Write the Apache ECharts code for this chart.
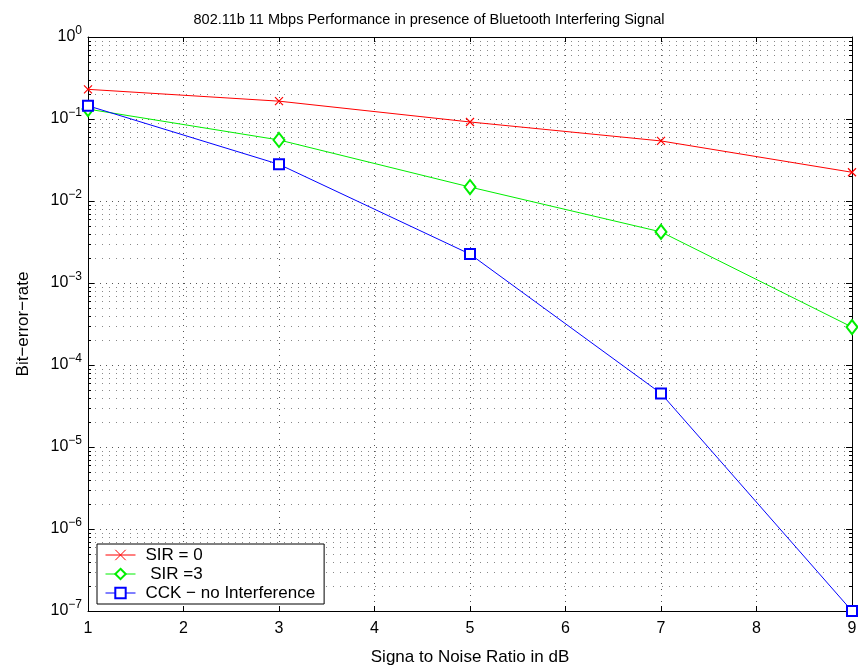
<!DOCTYPE html>
<html>
<head>
<meta charset="utf-8">
<script src="https://cdn.jsdelivr.net/npm/echarts@6/dist/echarts.min.js"></script>
<style>
  html, body { margin: 0; padding: 0; background: #fff; }
  #chart { width: 858px; height: 668px; }
</style>
</head>
<body>
<div id="chart"></div>
<script>
// data
const snr = [1, 3, 5, 7, 9];
const sir0 = [0.23, 0.165, 0.092, 0.054, 0.0224];
const sir3 = [0.132, 0.0555, 0.0148, 0.0042, 0.00029];
const cckNoInterf = [0.145, 0.028, 0.00225, 0.000045, 1e-7];
const seriesNames = ['SIR = 0', ' SIR =3', 'CCK \u2212 no Interference'];
const decades = [-7, -6, -5, -4, -3, -2, -1];
const mantissas = [2, 3, 4, 5, 6, 7, 8, 9];

const font = 'Liberation Sans, Arial, Helvetica, sans-serif';

// minor log grid values (2..9 per decade)
const minorVals = [];
decades.forEach(d => mantissas.forEach(m => minorVals.push(m * Math.pow(10, d))));

const xMark = 'path://M0,0L10,10M10,0L0,10';

function mkSeries(name, vals, color, symbol, size) {
  return {
    name: name,
    type: 'line',
    data: snr.map((x, i) => [x, vals[i]]),
    symbol: symbol,
    symbolSize: size,
    showAllSymbol: true,
    lineStyle: { color: color, width: 1 },
    itemStyle: symbol === xMark
      ? { color: 'rgba(0,0,0,0)', borderColor: color, borderWidth: 1.2 }
      : { color: color, borderColor: color, borderWidth: 1.1 },
    emphasis: { disabled: true },
    animation: false,
    z: 5
  };
}

const chart = echarts.init(document.getElementById('chart'));
chart.setOption({
  backgroundColor: '#fff',
  animation: false,
  title: {
    text: '802.11b 11 Mbps Performance in presence of Bluetooth Interfering Signal',
    left: 424, textAlign: 'center', top: 7,
    textStyle: { fontFamily: font, fontSize: 14.5, fontWeight: 'normal', color: '#000' }
  },
  grid: { left: 88, right: 6, top: 37, bottom: 57, containLabel: false, outerBoundsMode: 'none' },
  legend: {
    orient: 'vertical',
    left: 97, top: 544,
    padding: [2, 9, 2, 8],
    itemGap: 1,
    itemWidth: 30, itemHeight: 13,
    backgroundColor: '#fff',
    borderColor: '#000', borderWidth: 1,
    selectedMode: false,
    lineStyle: { width: 1 },
    itemStyle: { borderWidth: 1 },
    textStyle: { fontFamily: font, fontSize: 17, color: '#000', lineHeight: 18, padding: [0, 0, 0, 5] },
    data: seriesNames
  },
  xAxis: [{
    type: 'value', min: 1, max: 9, interval: 1,
    name: 'Signa to Noise Ratio in dB',
    nameLocation: 'middle', nameGap: 38,
    nameTextStyle: { fontFamily: font, fontSize: 17, color: '#000' },
    axisLine: { lineStyle: { color: '#000', width: 1 } },
    axisTick: { inside: true, length: 5, lineStyle: { color: '#000' } },
    axisLabel: { fontFamily: font, fontSize: 16, color: '#000', margin: 10 },
    splitLine: { show: true, lineStyle: { color: '#555', type: [1, 5], width: 1 } }
  }, {
    type: 'value', min: 1, max: 9, interval: 1, position: 'top',
    axisLine: { show: true, lineStyle: { color: '#000' } },
    axisTick: { inside: true, length: 5, lineStyle: { color: '#000' } },
    axisLabel: { show: false },
    splitLine: { show: false }
  }],
  yAxis: [{
    type: 'log', logBase: 10, min: 1e-7, max: 1, splitNumber: 7,
    name: 'Bit\u2212error\u2212rate',
    nameLocation: 'middle', nameGap: 56, nameRotate: 90,
    nameTextStyle: { fontFamily: font, fontSize: 17, color: '#000' },
    axisLine: { show: true, lineStyle: { color: '#000', width: 1 } },
    axisTick: { inside: true, length: 6, lineStyle: { color: '#000' } },
    axisLabel: {
      fontFamily: font, color: '#000', margin: 6,
      formatter: v => '{b|10}{s|' + String(Math.round(Math.log10(v))).replace('-', '\u2212') + '}',
      rich: {
        b: { fontFamily: font, fontSize: 16, color: '#000' },
        s: { fontFamily: font, fontSize: 12, color: '#000', padding: [0, 0, 12, 0] }
      }
    },
    splitLine: { show: true, lineStyle: { color: '#555', type: [1, 5], width: 1 } }
  }, {
    type: 'log', logBase: 10, min: 1e-7, max: 1, splitNumber: 7, position: 'right',
    axisLine: { show: true, lineStyle: { color: '#000' } },
    axisTick: { inside: true, length: 6, lineStyle: { color: '#000' } },
    axisLabel: { show: false },
    splitLine: { show: false }
  }],
  series: [
    {
      name: 'minor-grid',
      type: 'custom',
      silent: true,
      animation: false,
      z: 1,
      data: minorVals.map(v => [1, v]),
      renderItem: function (params, api) {
        const cs = params.coordSys;
        const y = Math.round(api.coord([1, api.value(1)])[1]) + 0.5;
        return {
          type: 'group',
          children: [
            { type: 'line', shape: { x1: cs.x, y1: y, x2: cs.x + cs.width, y2: y },
              style: { stroke: '#888', lineWidth: 1, lineDash: [1, 6] } },
            { type: 'line', shape: { x1: cs.x, y1: y, x2: cs.x + 3, y2: y },
              style: { stroke: '#000', lineWidth: 1 } },
            { type: 'line', shape: { x1: cs.x + cs.width - 3, y1: y, x2: cs.x + cs.width, y2: y },
              style: { stroke: '#000', lineWidth: 1 } }
          ]
        };
      }
    },
    mkSeries(seriesNames[0], sir0, '#ff0000', xMark, 8),
    mkSeries(seriesNames[1], sir3, '#00ee00', 'emptyDiamond', [11, 14]),
    mkSeries(seriesNames[2], cckNoInterf, '#0000ff', 'emptyRect', 10)
  ]
});
</script>
</body>
</html>
